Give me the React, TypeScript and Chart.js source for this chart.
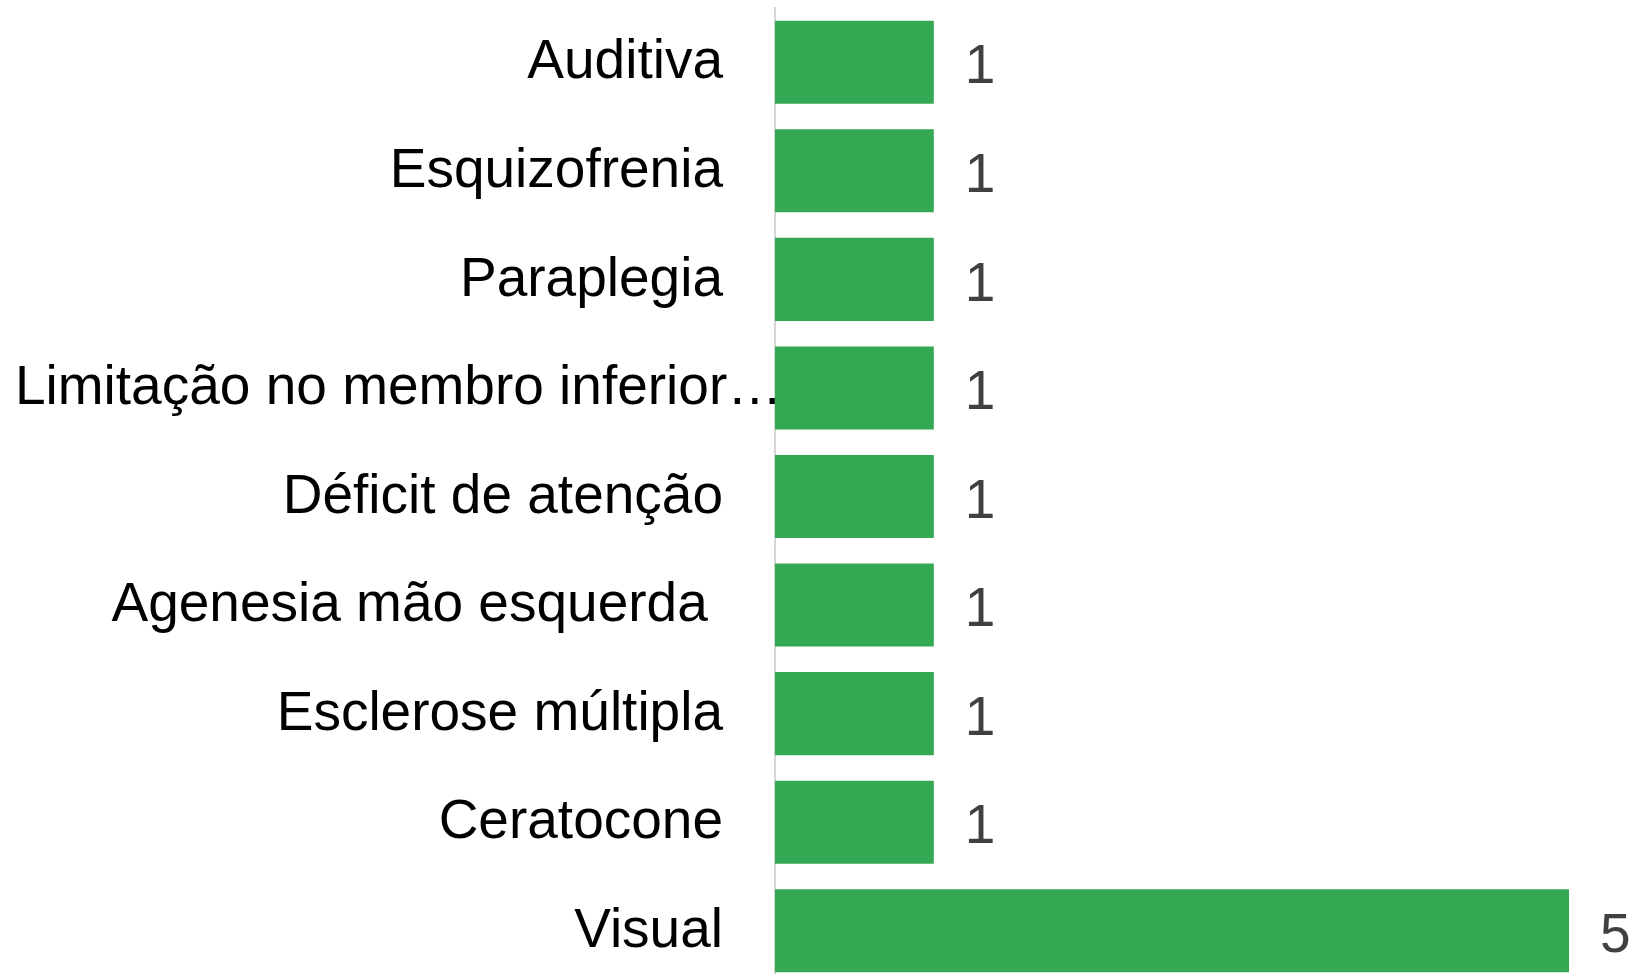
import React, { useEffect, useRef } from "react";
import { Chart, registerables } from "chart.js";

Chart.register(...registerables);

const categories = [
  "Auditiva",
  "Esquizofrenia",
  "Paraplegia",
  "Limitação no membro inferior…",
  "Déficit de atenção",
  "Agenesia mão esquerda ",
  "Esclerose múltipla",
  "Ceratocone",
  "Visual",
];
const values = [1, 1, 1, 1, 1, 1, 1, 1, 5];

const FONT = '55px "Liberation Sans", Arial, sans-serif';

const labelsPlugin = {
  id: "customLabels",
  afterDatasetsDraw(chart: any) {
    const ctx = chart.ctx;
    const yScale = chart.scales.y;
    const area = chart.chartArea;
    ctx.save();
    ctx.font = FONT;
    ctx.textBaseline = "middle";
    // category labels
    ctx.fillStyle = "#000000";
    categories.forEach((c, i) => {
      const y = yScale.getPixelForValue(i);
      const w = ctx.measureText(c).width;
      let right = area.left - 52;
      if (right - w < 15) right = 15 + w;
      ctx.textAlign = "right";
      ctx.fillText(c, right, y + 1);
    });
    // value labels
    ctx.fillStyle = "#404040";
    ctx.textAlign = "left";
    const meta = chart.getDatasetMeta(0);
    meta.data.forEach((bar: any, i: number) => {
      ctx.fillText(String(values[i]), bar.x + 31, bar.y + 6);
    });
    ctx.restore();
  },
};

export default function App() {
  const ref = useRef<HTMLCanvasElement | null>(null);
  useEffect(() => {
    if (!ref.current) return;
    const chart = new Chart(ref.current, {
      type: "bar",
      data: {
        labels: categories,
        datasets: [
          {
            data: values,
            backgroundColor: "#35a853",
            borderWidth: 0,
            categoryPercentage: 1,
            barPercentage: 0.765,
          },
        ],
      },
      options: {
        indexAxis: "y",
        animation: false,
        responsive: false,
        maintainAspectRatio: false,
        layout: { padding: { top: 8, right: 68, bottom: 0, left: 0 } },
        plugins: {
          legend: { display: false },
          tooltip: { enabled: false },
        },
        scales: {
          x: { display: false, min: 0, max: 5 },
          y: {
            display: true,
            ticks: { display: false },
            grid: { display: false },
            border: { display: true, color: "#d6d6d6", width: 2 },
            afterFit(scale: any) {
              scale.width = 775;
            },
          },
        },
      },
      plugins: [labelsPlugin],
    });
    return () => chart.destroy();
  }, []);
  return (
    <div
      style={{
        position: "absolute",
        left: 0,
        top: 0,
        width: 1637,
        height: 974,
        overflow: "hidden",
        background: "#ffffff",
      }}
    >
      <canvas ref={ref} width={1637} height={985} style={{ display: "block" }} />
    </div>
  );
}
